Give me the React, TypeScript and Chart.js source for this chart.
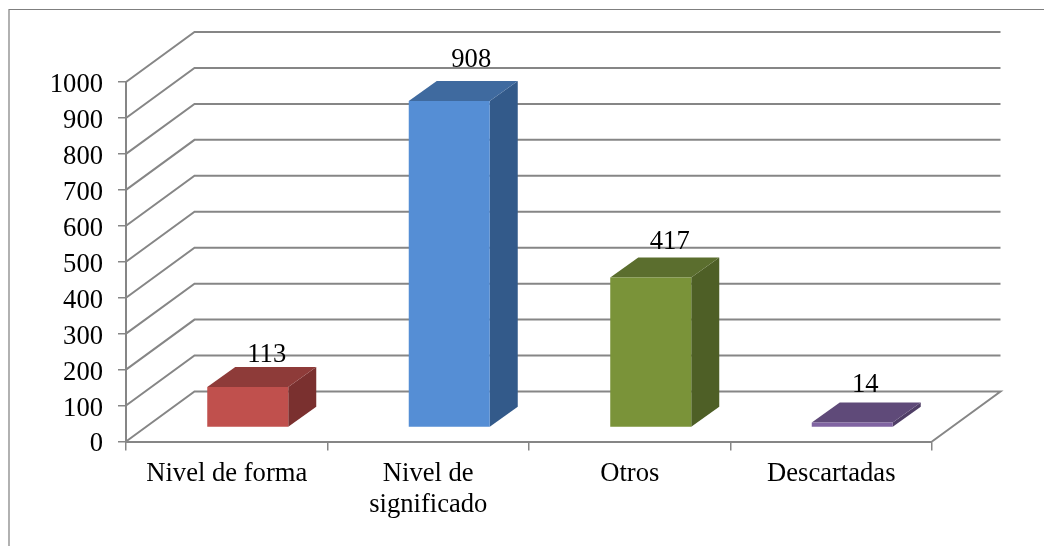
import React, { useEffect, useRef } from "react";
import { Chart, registerables } from "chart.js";

Chart.register(...registerables);

const categories = [["Nivel de forma"], ["Nivel de", "significado"], ["Otros"], ["Descartadas"]];
const values = [113, 908, 417, 14];
const frontColors = ["#C0504D", "#558ED5", "#7A9339", "#8064A2"];
const topColors = ["#8E3B39", "#3F6A9F", "#5B6E2E", "#5F4A79"];
const sideColors = ["#7A302F", "#335A8A", "#4E5F26", "#4F3E66"];
const labelNudges = [[0, 3], [3, -6], [0, -1], [-6, -2]];

const FONT = "Liberation Serif";
const FONT_SIZE = 26.6;
const LINE = "#868686";
const WALL_DX = 68.5;
const WALL_DY = -50;
const BAR_SHIFT_X = 21;
const BAR_SHIFT_Y = -14;
const BAR_DX = 28;
const BAR_DY = -20;

// Walls and floor of the box, in the y scale's own coordinates.
const boxPlugin = {
  id: "box",
  beforeDraw(chart: any) {
    const { ctx, height, width } = chart;
    ctx.save();
    ctx.strokeStyle = "#7F7F7F";
    ctx.lineWidth = 1.2;
    ctx.beginPath();
    ctx.moveTo(9, height);
    ctx.lineTo(9, 9.5);
    ctx.lineTo(width, 9.5);
    ctx.stroke();
    ctx.restore();
  },
  beforeDatasetsDraw(chart: any) {
    const { ctx, chartArea, scales } = chart;
    const y = scales.y;
    ctx.save();
    ctx.strokeStyle = LINE;
    ctx.lineWidth = 2;
    ctx.lineJoin = "miter";
    y.ticks.forEach((t: any) => {
      const py = y.getPixelForValue(t.value);
      ctx.beginPath();
      ctx.moveTo(chartArea.left, py);
      ctx.lineTo(chartArea.left + WALL_DX, py + WALL_DY);
      ctx.lineTo(chartArea.right + WALL_DX, py + WALL_DY);
      if (t.value === 0) ctx.lineTo(chartArea.right, py);
      ctx.stroke();
    });
    // Value axis labels sit slightly under the tick marks.
    ctx.font = `${FONT_SIZE}px "${FONT}"`;
    ctx.fillStyle = "#000";
    ctx.textAlign = "right";
    ctx.textBaseline = "middle";
    y.ticks.forEach((t: any) => {
      ctx.fillText(t.label, chartArea.left - 23, y.getPixelForValue(t.value) + 3);
    });
    ctx.restore();
  },
};

// Columns are pushed into the box; their top and side faces come from the bar elements.
const columnPlugin = {
  id: "columns",
  beforeDatasetDraw(chart: any) {
    const { ctx } = chart;
    ctx.save();
    ctx.translate(BAR_SHIFT_X, BAR_SHIFT_Y);
    chart.getDatasetMeta(0).data.forEach((bar: any, i: number) => {
      const l = bar.x - bar.width / 2;
      const r = bar.x + bar.width / 2;
      ctx.fillStyle = sideColors[i];
      ctx.beginPath();
      ctx.moveTo(r, bar.y);
      ctx.lineTo(r + BAR_DX, bar.y + BAR_DY);
      ctx.lineTo(r + BAR_DX, bar.base + BAR_DY);
      ctx.lineTo(r, bar.base);
      ctx.closePath();
      ctx.fill();
      ctx.fillStyle = topColors[i];
      ctx.beginPath();
      ctx.moveTo(l, bar.y);
      ctx.lineTo(l + BAR_DX, bar.y + BAR_DY);
      ctx.lineTo(r + BAR_DX, bar.y + BAR_DY);
      ctx.lineTo(r, bar.y);
      ctx.closePath();
      ctx.fill();
    });
  },
  afterDatasetDraw(chart: any) {
    chart.ctx.restore();
  },
  afterDatasetsDraw(chart: any) {
    const { ctx } = chart;
    ctx.save();
    ctx.font = `${FONT_SIZE}px "${FONT}"`;
    ctx.fillStyle = "#000";
    ctx.textAlign = "center";
    ctx.textBaseline = "alphabetic";
    chart.getDatasetMeta(0).data.forEach((bar: any, i: number) => {
      const [nx, ny] = labelNudges[i];
      ctx.fillText(String(values[i]), bar.x + BAR_SHIFT_X + 19 + nx, bar.y + BAR_SHIFT_Y - 28 + ny);
    });
    ctx.restore();
  },
};

export default function App() {
  const canvasRef = useRef<HTMLCanvasElement>(null);

  useEffect(() => {
    const chart = new Chart(canvasRef.current!, {
      type: "bar",
      data: {
        labels: categories,
        datasets: [
          {
            data: values,
            backgroundColor: frontColors,
            categoryPercentage: 1,
            barPercentage: 0.402,
          },
        ],
      },
      options: {
        responsive: false,
        animation: false,
        layout: { padding: { top: 82, right: 112, bottom: 0, left: 0 } },
        plugins: { legend: { display: false }, tooltip: { enabled: false } },
        scales: {
          x: {
            afterFit: (s: any) => {
              s.height = 104.5;
            },
            border: { color: LINE, width: 2 },
            grid: { drawOnChartArea: false, color: LINE, tickLength: 9, lineWidth: 1.5, offset: true },
            ticks: {
              autoSkip: false,
              maxRotation: 0,
              minRotation: 0,
              padding: 8,
              color: "#000",
              font: { family: FONT, size: FONT_SIZE, lineHeight: 1.17 },
            },
          },
          y: {
            min: 0,
            max: 1000,
            afterFit: (s: any) => {
              s.width = 126;
            },
            border: { color: LINE, width: 2 },
            grid: { drawOnChartArea: false, color: LINE, tickLength: 8, lineWidth: 1.5 },
            ticks: {
              stepSize: 100,
              display: false,
              callback: (v: any) => String(v),
            },
          },
        },
      },
      plugins: [boxPlugin, columnPlugin],
    } as any);
    return () => chart.destroy();
  }, []);

  return (
    <canvas
      ref={canvasRef}
      width={1044}
      height={546}
      style={{ position: "fixed", left: 0, top: 0, display: "block", background: "#fff" }}
    />
  );
}
